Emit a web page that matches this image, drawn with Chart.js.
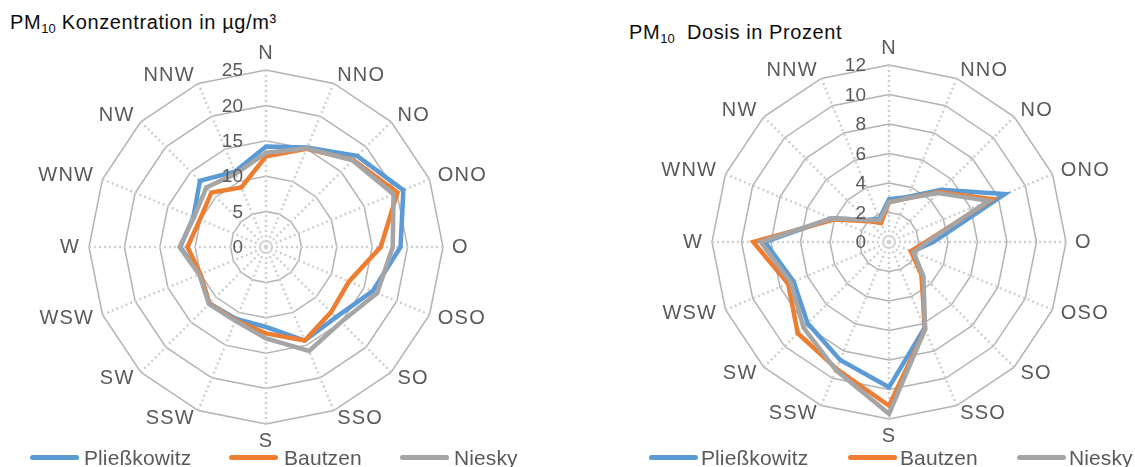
<!DOCTYPE html>
<html lang="de">
<head>
<meta charset="utf-8">
<title>PM10 nach Windrichtung</title>
<script src="https://cdn.jsdelivr.net/npm/chart.js@4.4.1/dist/chart.umd.min.js"></script>
<style>
  html, body { margin: 0; padding: 0; width: 1135px; height: 467px; overflow: hidden; background: #fff;
               font-family: "Liberation Sans", Arial, sans-serif; }
  canvas { position: absolute; top: 0; }
  .titel { position: absolute; font-size: 20px; line-height: 20px; color: #0d0d0d; letter-spacing: 0.6px; white-space: nowrap; }
  .titel sub { font-size: 13px; line-height: 0; vertical-align: -4px; letter-spacing: 0; }
  .leg-linie { position: absolute; top: 455px; height: 5px; border-radius: 3px; }
  .leg-text { position: absolute; top: 447px; font-size: 21px; line-height: 21px; color: #595959; letter-spacing: 0.1px; white-space: nowrap; }
</style>
</head>
<body>

<div class="titel" style="left:10px; top:12px;">PM<sub>10</sub> Konzentration in µg/m³</div>
<div class="titel" style="left:629px; top:22px;">PM<sub>10</sub>&nbsp; Dosis in Prozent</div>

<canvas id="konzentration" width="532" height="467" style="left:0px;"></canvas>
<canvas id="dosis" width="532" height="467" style="left:623px;"></canvas>

<div id="legenden"></div>

<script>
// Windrichtungen (im Uhrzeigersinn ab Nord)
const richtungen = ['N', 'NNO', 'NO', 'ONO', 'O', 'OSO', 'SO', 'SSO', 'S', 'SSW', 'SW', 'WSW', 'W', 'WNW', 'NW', 'NNW'];
const stationen = ['Pließkowitz', 'Bautzen', 'Niesky'];
const farben = ['#5B9BD5', '#ED7D31', '#A5A5A5'];

// PM10 Konzentration in µg/m³
const konzPliesskowitz = [14.2, 15.2, 18.2, 21.0, 19.0, 16.3, 14.0, 14.3, 11.3, 11.0, 11.3, 10.1, 12.1, 11.1, 13.2, 11.5];
const konzBautzen      = [12.8, 15.0, 17.4, 20.1, 16.2, 12.7, 13.0, 14.3, 12.2, 11.2, 11.3, 10.0, 11.1, 10.1, 10.9, 9.1];
const konzNiesky       = [13.3, 15.1, 17.3, 19.5, 17.9, 17.0, 15.0, 15.9, 12.9, 11.3, 11.4, 10.2, 12.2, 11.0, 11.9, 11.2];
const konzMax = 25, konzSchritt = 5;

// PM10 Dosis in Prozent
const dosisPliesskowitz = [2.9, 3.3, 5.0, 8.5, 3.0, 1.7, 3.2, 6.3, 9.85, 8.65, 7.8, 7.0, 8.4, 4.2, 2.1, 1.7];
const dosisBautzen      = [2.7, 3.2, 4.8, 7.6, 2.5, 1.6, 3.1, 6.4, 11.1, 9.3, 8.75, 7.4, 9.2, 4.0, 2.0, 1.4];
const dosisNiesky       = [2.7, 3.2, 4.7, 7.3, 2.6, 1.8, 3.3, 6.4, 11.65, 9.4, 8.2, 7.2, 8.7, 4.2, 2.1, 1.6];
const dosisMax = 12, dosisSchritt = 2;

const SCHRIFT = '"Liberation Sans", Arial, sans-serif';
const SPERRUNG = '1.2px';

// etwas breitere Laufweite wie im Original
const laufweite = {
    id: 'laufweite',
    beforeDraw(chart) {
        chart.ctx.letterSpacing = SPERRUNG;
    }
};

// Achsenwerte links neben der Nord-Achse, wie in Excel (inkl. 0)
const achsenwerte = {
    id: 'achsenwerte',
    afterDatasetsDraw(chart) {
        const s = chart.scales.r;
        const ctx = chart.ctx;
        ctx.save();
        ctx.letterSpacing = '0px';
        ctx.font = '19px ' + SCHRIFT;
        ctx.fillStyle = '#595959';
        ctx.textAlign = 'right';
        ctx.textBaseline = 'middle';
        s.ticks.forEach(t => {
            const d = s.getDistanceFromCenterForValue(t.value);
            ctx.fillText(t.label, s.xCenter - 23, s.yCenter - d + 1);
        });
        ctx.restore();
    }
};

// Richtungsbeschriftung wie in Excel: am Ankerpunkt links/rechts ausgerichtet, vertikal mittig
function excelBeschriftung(scale) {
    const items = scale._pointLabelItems;
    if (!items) return;
    const ctx = scale.ctx;
    const D = scale.drawingArea + 9;
    ctx.save();
    ctx.font = '20px ' + SCHRIFT;
    ctx.letterSpacing = SPERRUNG;
    items.forEach((item, i) => {
        const a = scale.getIndexAngle(i);
        const sin = Math.sin(a), cos = Math.cos(a);
        const px = scale.xCenter + D * sin;
        const py = scale.yCenter - D * cos;
        const w = ctx.measureText(scale._pointLabels[i]).width;
        let align = 'center', links = px - w / 2, mitte = py;
        if (sin > 0.01) { align = 'left'; links = px; }
        else if (sin < -0.01) { align = 'right'; links = px - w; }
        else if (cos > 0) { mitte = py - 8; }
        else { mitte = py + 8; }
        item.x = px;
        item.y = mitte - 12;
        item.textAlign = align;
        item.left = links;
        item.right = links + w;
        item.top = mitte - 12;
        item.bottom = mitte + 12;
    });
    ctx.restore();
}

function netzDiagramm(id, reihen, max, schritt, obenAbstand) {
    return new Chart(document.getElementById(id), {
        type: 'radar',
        data: {
            labels: richtungen,
            datasets: reihen.map((werte, i) => ({
                label: stationen[i],
                data: werte,
                borderColor: farben[i],
                backgroundColor: farben[i],
                borderWidth: 4.5,
                pointRadius: 0,
                fill: false,
                tension: 0,
                order: 3 - i
            }))
        },
        options: {
            responsive: false,
            animation: false,
            layout: { padding: { top: obenAbstand, bottom: 467 - obenAbstand - 418, left: 0, right: 0 } },
            plugins: { legend: { display: false }, tooltip: { enabled: false } },
            scales: {
                r: {
                    min: 0,
                    max: max,
                    ticks: { stepSize: schritt, display: false },
                    grid: { color: '#B3B3B3', lineWidth: 1.5 },
                    angleLines: { color: '#CFCFCF', lineWidth: 2.5, borderDash: [2, 3] },
                    pointLabels: { font: { size: 20, family: SCHRIFT }, color: '#595959', padding: 8 },
                    afterFit: excelBeschriftung
                }
            }
        },
        plugins: [laufweite, achsenwerte]
    });
}

netzDiagramm('konzentration', [konzPliesskowitz, konzBautzen, konzNiesky], konzMax, konzSchritt, 38);
netzDiagramm('dosis', [dosisPliesskowitz, dosisBautzen, dosisNiesky], dosisMax, dosisSchritt, 33);

// Legenden unter beiden Diagrammen
const legendenPos = [
    [[30, 84], [229, 284], [400, 454]],
    [[649, 701], [848, 900], [1017, 1069]]
];
const legenden = document.getElementById('legenden');
legendenPos.forEach(diagramm => {
    diagramm.forEach(([linie, text], i) => {
        const l = document.createElement('div');
        l.className = 'leg-linie';
        l.style.left = linie + 'px';
        l.style.width = '49px';
        l.style.background = farben[i];
        legenden.appendChild(l);
        const t = document.createElement('div');
        t.className = 'leg-text';
        t.style.left = text + 'px';
        t.textContent = stationen[i];
        legenden.appendChild(t);
    });
});
</script>
</body>
</html>
